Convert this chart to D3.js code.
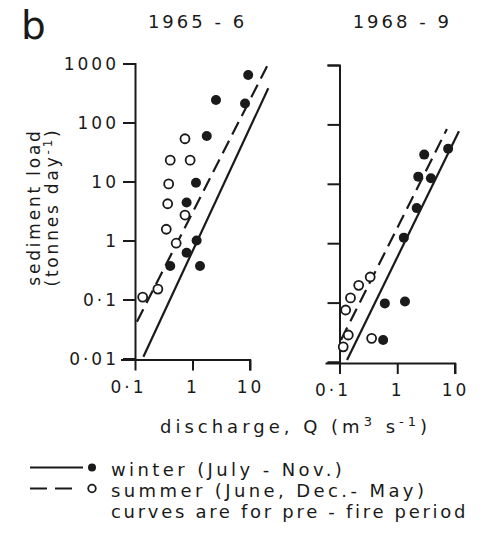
<!DOCTYPE html>
<meta charset="utf-8">
<head>
<style>
  body { margin: 0; background: #fff; }
  svg text { font-family: "DejaVu Sans", sans-serif; fill: #1a1a1a; }
  .axis path, .axis line { stroke: #1a1a1a; stroke-width: 2; fill: none; }
  .axis text { font-size: 17px; letter-spacing: 3px; }
  .curve { fill: none; stroke: #1a1a1a; stroke-width: 2.2; }
  .dot-winter { fill: #1a1a1a; }
  .dot-summer { fill: #fff; stroke: #1a1a1a; stroke-width: 1.8; }
</style>
</head>
<body>
<script src="https://d3js.org/d3.v7.min.js"></script>
<script>
// tick values
var yTicks = [0.01, 0.1, 1, 10, 100, 1000];
var xTicks = [0.1, 1, 10];
var periods = ["1965 - 6", "1968 - 9"];

// points: [discharge Q (m3/s), sediment load (t/day)]
var winter1965 = [[9.3, 640], [2.56, 240], [8.2, 210], [1.77, 59], [1.15, 9.5], [0.79, 4.4],
                  [1.18, 1.0], [0.79, 0.62], [1.35, 0.37], [0.41, 0.37]];
var summer1965 = [[0.74, 53], [0.41, 23], [0.91, 23], [0.385, 9.1], [0.37, 4.2], [0.74, 2.7],
                  [0.35, 1.55], [0.52, 0.9], [0.25, 0.15], [0.136, 0.11]];
var winter1968 = [[7.6, 39], [2.93, 31], [2.31, 13.2], [3.83, 12.4], [2.17, 3.9], [1.3, 1.24],
                  [0.61, 0.097], [1.36, 0.104], [0.57, 0.0234]];
var summer1968 = [[0.128, 0.075], [0.155, 0.12], [0.215, 0.195], [0.34, 0.27],
                  [0.116, 0.018], [0.142, 0.0285], [0.36, 0.025]];

// pre-fire rating curves (end points)
var winterCurve1965 = [[0.14, 0.0107], [20.8, 380]];
var summerCurve1965 = [[0.108, 0.042], [19.8, 900]];
var winterCurve1968 = [[0.135, 0.0108], [11.7, 77]];
var summerCurve1968 = [[0.106, 0.0234], [7.24, 83.5]];

var panels = [
  { title: periods[0], xr: [135, 250], yr: [358.5, 63.5], winter: winter1965, summer: summer1965,
    wc: winterCurve1965, sc: summerCurve1965, labels: true },
  { title: periods[1], xr: [339.5, 455], yr: [362, 65], winter: winter1968, summer: summer1968,
    wc: winterCurve1968, sc: summerCurve1968, labels: false }
];

var fmt = function (d) { return String(d).replace(".", "\u00b7"); };

var svg = d3.select("body").append("svg")
  .attr("width", 483)
  .attr("height", 535);

svg.append("text").attr("x", 21).attr("y", 39)
  .style("font-size", "39px").text("b");

panels.forEach(function (p) {
  var x = d3.scaleLog().domain([0.1, 10]).range(p.xr);
  var y = d3.scaleLog().domain([0.01, 1000]).range(p.yr);

  svg.append("text")
    .attr("x", (p.xr[0] + p.xr[1]) / 2 + 5)
    .attr("y", 28)
    .attr("text-anchor", "middle")
    .style("font-size", "18px")
    .style("letter-spacing", "3px")
    .text(p.title);

  var ya = svg.append("g")
    .attr("class", "axis")
    .attr("transform", "translate(" + p.xr[0] + ",0)")
    .call(d3.axisLeft(y).tickValues(yTicks).tickSize(12).tickPadding(4)
      .tickFormat(p.labels ? fmt : ""));
  ya.selectAll("text").attr("dy", "0.36em");

  var xa = svg.append("g")
    .attr("class", "axis")
    .attr("transform", "translate(0," + (p.yr[0] + 1) + ")")
    .call(d3.axisBottom(x).tickValues(xTicks).tickSize(11).tickPadding(10).tickFormat(fmt));
  xa.selectAll(".domain").attr("d", "M" + (p.xr[0] - 14) + ",0.5H" + p.xr[1] + "V11");
  xa.selectAll("text").filter(function (d) { return d === 0.1; }).attr("dx", "-7");

  var line = d3.line()
    .x(function (d) { return x(d[0]); })
    .y(function (d) { return y(d[1]); });

  svg.append("path").datum(p.wc).attr("class", "curve").attr("d", line);
  svg.append("path").datum(p.sc).attr("class", "curve")
    .attr("stroke-dasharray", "14,7").attr("d", line);

  svg.selectAll(null).data(p.summer).enter().append("circle")
    .attr("class", "dot-summer")
    .attr("cx", function (d) { return x(d[0]); })
    .attr("cy", function (d) { return y(d[1]); })
    .attr("r", 4.5);

  svg.selectAll(null).data(p.winter).enter().append("circle")
    .attr("class", "dot-winter")
    .attr("cx", function (d) { return x(d[0]); })
    .attr("cy", function (d) { return y(d[1]); })
    .attr("r", 5);
});

// y axis title
var yt = svg.append("text")
  .attr("transform", "translate(40,207) rotate(-90)")
  .attr("text-anchor", "middle")
  .style("font-size", "17px")
  .style("letter-spacing", "2.8px");
yt.append("tspan").attr("x", 0).attr("y", 0).text("sediment load");
yt.append("tspan").attr("x", 0).attr("y", 18).text("(tonnes day");
yt.append("tspan").attr("dy", -6).style("font-size", "12px").text("-1");
yt.append("tspan").attr("dy", 6).text(")");

// x axis title
var xt = svg.append("text")
  .attr("x", 160).attr("y", 433)
  .style("font-size", "18px")
  .style("letter-spacing", "4px");
xt.append("tspan").text("discharge, Q (m");
xt.append("tspan").attr("dy", -7).style("font-size", "13px").text("3");
xt.append("tspan").attr("dy", 7).text(" s");
xt.append("tspan").attr("dy", -7).style("font-size", "13px").text("-1");
xt.append("tspan").attr("dy", 7).text(")");

// legend
var legend = svg.append("g");
legend.append("line").attr("x1", 30).attr("x2", 83).attr("y1", 467.5).attr("y2", 467.5)
  .attr("class", "curve");
legend.append("circle").attr("cx", 92).attr("cy", 467.5).attr("r", 4).attr("class", "dot-winter");
legend.append("line").attr("x1", 30).attr("x2", 72).attr("y1", 488.5).attr("y2", 488.5)
  .attr("class", "curve").attr("stroke-dasharray", "17,8");
legend.append("circle").attr("cx", 92).attr("cy", 488.5).attr("r", 3.8).attr("class", "dot-summer");

var legendText = ["winter (July - Nov.)", "summer (June, Dec.- May)", "curves are for pre - fire period"];
var legendY = [476, 497, 518];
var legendSpacing = [3.4, 3.4, 2.7];
legend.selectAll(null).data(legendText).enter().append("text")
  .attr("x", 111)
  .attr("y", function (d, i) { return legendY[i]; })
  .style("font-size", "18px")
  .style("letter-spacing", function (d, i) { return legendSpacing[i] + "px"; })
  .text(function (d) { return d; });
</script>
</body>
